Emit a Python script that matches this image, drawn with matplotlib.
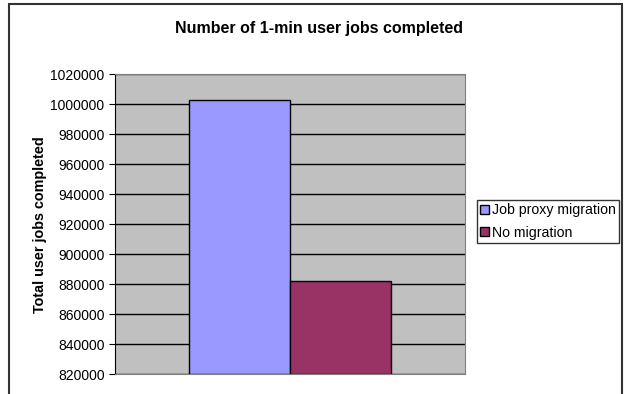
import matplotlib.pyplot as plt
import matplotlib.patches as patches

# chart values
series = ['Job proxy migration', 'No migration']
values = [1003000, 882000]
colors = ['#9999FF', '#993366']
yticks = list(range(820000, 1020001, 20000))

plt.rcParams['font.family'] = ['Liberation Sans', 'DejaVu Sans']

fig = plt.figure(figsize=(6.26, 3.94), dpi=100)
ax = fig.add_axes([115/626, 20/394, 350/626, 300/394])

# outer chart border
fig.patches.append(patches.Rectangle((9/626, -0.05), 613/626, 1.05 - 4/394,
                                     transform=fig.transFigure, fill=False,
                                     edgecolor='#333333', linewidth=1.5))

ax.set_facecolor('#C0C0C0')
ax.set_axisbelow(True)
ax.yaxis.grid(True, color='black', linewidth=1)

width = 0.288
offsets = [-width/2, width/2]
for name, val, col, off in zip(series, values, colors, offsets):
    ax.bar(off, val - yticks[0], bottom=yticks[0], width=width, color=col,
           edgecolor='black', linewidth=1, label=name)

ax.set_xlim(-0.5, 0.5)
ax.set_ylim(yticks[0], yticks[-1])
ax.set_yticks(yticks)
ax.set_yticklabels([str(t) for t in yticks], fontsize=10)
ax.set_xticks([])
ax.tick_params(axis='y', direction='out', length=4, color='black')

for side in ['top', 'right', 'bottom']:
    ax.spines[side].set_color('#808080')
ax.spines['left'].set_color('black')

fig.text(319/626, 1 - 28/394, 'Number of 1-min user jobs completed',
         ha='center', va='center', fontsize=11.5, fontweight='bold')
fig.text(40/626, 1 - 225/394, 'Total user jobs completed', rotation=90,
         ha='center', va='center', fontsize=10.4, fontweight='bold')

leg = fig.legend(loc='upper left', bbox_to_anchor=(477/626, 1 - 200/394),
                 fontsize=10.2, frameon=True, fancybox=False, borderpad=0.22,
                 handlelength=0.6, handleheight=0.6, handletextpad=0.25,
                 labelspacing=0.6, borderaxespad=0)
leg.get_frame().set_edgecolor('black')
leg.get_frame().set_linewidth(1)

fig.savefig('out.png', dpi=100)
